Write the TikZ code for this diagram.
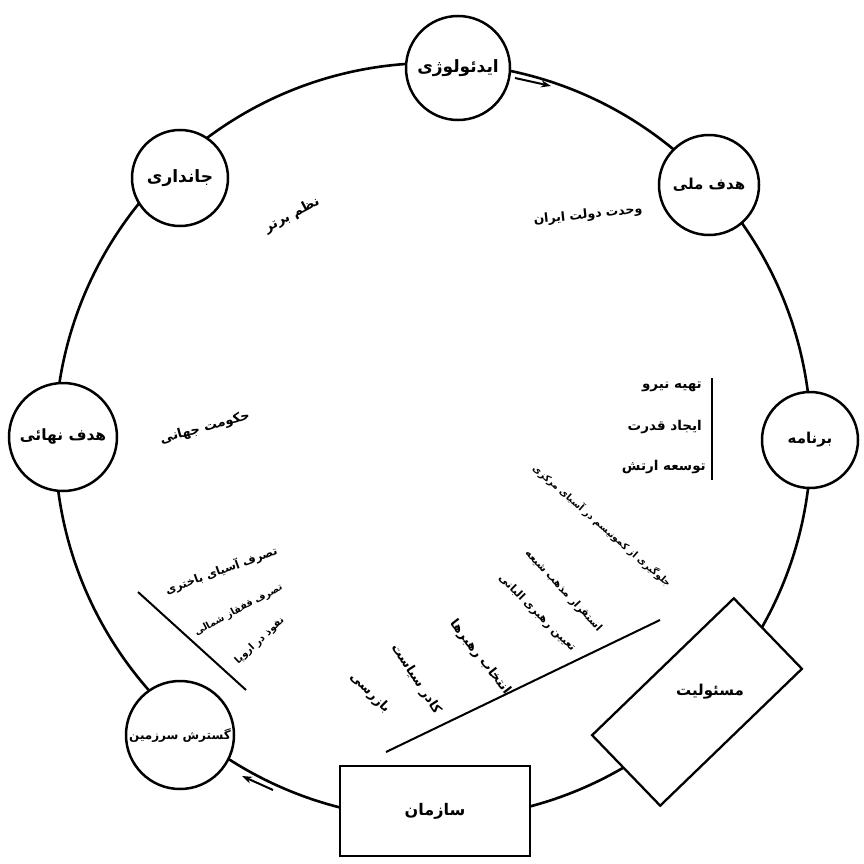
\documentclass[tikz,border=0pt]{standalone}
\usepackage{fontspec}
\usetikzlibrary{arrows.meta}
\newfontfamily\fa[Script=Arabic]{DejaVu Sans}
\TeXXeTstate=1
\newcommand{\fat}[1]{{\fa\bfseries\beginR #1\endR}}
\newcommand{\fs}[1]{\fontsize{#1}{#1}\selectfont}
\begin{document}
\begin{tikzpicture}[x=1pt,y=-1pt,
  ring/.style={line width=2.6pt},
  cnode/.style={circle,draw,fill=white,line width=2.5pt,inner sep=0pt,font=\fs{15}},
  rnode/.style={rectangle,draw,fill=white,line width=2.3pt,inner sep=0pt},
  lab/.style={inner sep=0pt,font=\fs{12}},
  slab/.style={inner sep=0pt,font=\fs{10.5}},
  bar/.style={line width=2pt},
  flow/.style={line width=2pt,-{Stealth[length=10pt,width=7pt]}}]
\useasboundingbox (0,0) rectangle (864,864);
\fill[white] (0,0) rectangle (864,864);
% big ring
\coordinate (c) at (433,441);
\draw[ring] (c) circle[radius=378];
% circle nodes
\node[cnode,minimum size=104pt,font=\fs{17}] (ideo) at (458,68) {\fat{ایدئولوژی}};
\node[cnode,minimum size=100pt] (melli) at (709,185) {\fat{هدف ملی}};
\node[cnode,minimum size=96pt,font=\fs{17}] (jan) at (180,178) {\fat{جانداری}};
\node[cnode,minimum size=96pt] (barn) at (810,440) {\fat{برنامه}};
\node[cnode,minimum size=108pt,font=\fs{15.5}] (nahai) at (63,437) {\fat{هدف نهائی}};
\node[cnode,minimum size=108pt,font=\fs{12}] (gostar) at (180,735) {\fat{گسترش سرزمین}};
% rectangles
\node[rnode,minimum width=190pt,minimum height=90pt,font=\fs{16}] (sazman) at (435,811) {\fat{سازمان}};
\node[rnode,minimum width=197pt,minimum height=98pt,rotate=44] (masool) at (697,702) {};
\node[inner sep=0pt,font=\fs{15}] (masoolt) at (710,692) {\fat{مسئولیت}};
% arrows on the ring
\coordinate (a1s) at (515,78); \coordinate (a1e) at (551,86);
\draw[flow] (a1s) -- (a1e);
\coordinate (a2s) at (273,790); \coordinate (a2e) at (242,776);
\draw[flow] (a2s) -- (a2e);
% inner labels
\node[lab,rotate=28,font=\fs{13.5}] (nazm) at (292,215) {\fat{نظم برتر}};
\node[lab,rotate=6,font=\fs{12.5}] (vahdat) at (588,215) {\fat{وحدت دولت ایران}};
\node[lab,rotate=15,font=\fs{13}] (hokumat) at (205,428) {\fat{حکومت جهانی}};
% right list
\node[lab,anchor=east,font=\fs{13.5}] (r1) at (702,387) {\fat{تهیه نیرو}};
\node[lab,anchor=east,font=\fs{13.5}] (r2) at (702,427) {\fat{ایجاد قدرت}};
\node[lab,anchor=east,font=\fs{13.5}] (r3) at (706,467) {\fat{توسعه ارتش}};
\coordinate (v1) at (712,378); \coordinate (v2) at (712,480);
\draw[bar] (v1) -- (v2);
% bottom-left list
\node[lab,anchor=east,rotate=20,font=\fs{11.5}] (b1) at (277,550) {\fat{تصرف آسیای باختری}};
\node[lab,anchor=east,rotate=28,font=\fs{9.5}] (b2) at (282,587) {\fat{تصرف قفقاز شمالی}};
\node[lab,anchor=east,rotate=43,font=\fs{10}] (b3) at (283,619) {\fat{نفوذ در اروپا}};
\coordinate (d1) at (138,592); \coordinate (d2) at (246,690);
\draw[bar] (d1) -- (d2);
% diagonal list
\node[slab,anchor=east,rotate=-41,font=\fs{9.5}] (l1) at (670,585) {\fat{جلوگیری از کمونیسم در آسیای مرکزی}};
\node[slab,anchor=east,rotate=-47] (l2) at (600,630) {\fat{استقرار مذهب شیعه}};
\node[slab,anchor=east,rotate=-45,font=\fs{11}] (l3) at (574,650) {\fat{تعیین رهبری البانی}};
\node[slab,anchor=east,rotate=-52,font=\fs{13}] (l4) at (508,693) {\fat{انتخاب رهبرها}};
\node[slab,anchor=east,rotate=-57,font=\fs{13}] (l5) at (438,713) {\fat{کادر سیاست}};
\node[slab,anchor=east,rotate=-45,font=\fs{13}] (l6) at (388,711) {\fat{بازرسی}};
\coordinate (e1) at (386,752); \coordinate (e2) at (660,620);
\draw[bar] (e1) -- (e2);
\end{tikzpicture}
\end{document}
